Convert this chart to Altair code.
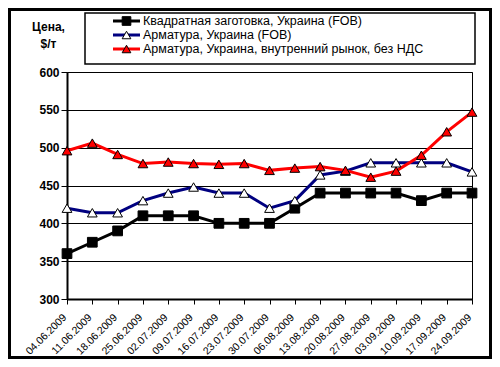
import altair as alt
import pandas as pd

DATES = ["04.06.2009", "11.06.2009", "18.06.2009", "25.06.2009", "02.07.2009",
         "09.07.2009", "16.07.2009", "23.07.2009", "30.07.2009", "06.08.2009",
         "13.08.2009", "20.08.2009", "27.08.2009", "03.09.2009", "10.09.2009",
         "17.09.2009", "24.09.2009"]
SERIES = ["Квадратная заготовка, Украина (FOB)",
          "Арматура, Украина (FOB)",
          "Арматура, Украина, внутренний рынок, без НДС"]
BILLET = [360, 375, 390, 410, 410, 410, 400, 400, 400, 420, 440, 440, 440, 440, 430, 440, 440]
REBAR_FOB = [420, 414, 414, 430, 440, 448, 440, 440, 420, 430, 464, 469, 480, 480, 480, 480, 468]
REBAR_DOM = [496, 506, 491, 479, 481, 479, 478, 479, 470, 473, 475, 470, 461, 469, 490, 521, 547]
Y_TICKS = [300, 350, 400, 450, 500, 550, 600]
Y_TITLE = ["Цена,", "$/т"]

# styles
LINE_COLORS = ["#000000", "#000080", "#FF0000"]
FILLS = ["#000000", "#FFFFFF", "#FF0000"]
SHAPES = ["square", "triangle-up", "triangle-up"]
FONT = "Liberation Sans"

rows = []
for name, vals in zip(SERIES, [BILLET, REBAR_FOB, REBAR_DOM]):
    for d, v in zip(DATES, vals):
        rows.append({"series": name, "date": d, "value": v})
df = pd.DataFrame(rows)

x = alt.X("date:N", sort=DATES, scale=alt.Scale(type="point", padding=0),
          axis=alt.Axis(title=None, labelAngle=-45, labelFontSize=10.5, labelFont=FONT,
                        labelColor="black", tickSize=5, tickColor="black",
                        domainColor="black", domainWidth=2, grid=False,
                        labelPadding=8, labelOffset=-6))
y = alt.Y("value:Q", scale=alt.Scale(domain=[300, 600], nice=False, zero=False),
          axis=alt.Axis(values=Y_TICKS, title=Y_TITLE, titleAngle=0, titleX=-19, titleY=-45.5,
                        titleAlign="center", titleBaseline="middle", titleFontWeight="bold",
                        titleFontSize=12, titleFont=FONT, titleLineHeight=17, titleColor="black",
                        labelFont=FONT, labelFontSize=12, labelFontWeight="bold", labelColor="black",
                        labelPadding=2, tickSize=6, tickColor="black", domainColor="black",
                        domainWidth=2, grid=True, gridColor="black", gridWidth=1))

base = alt.Chart(df)
lines = base.mark_line(strokeWidth=3).encode(
    x=x, y=y,
    color=alt.Color("series:N", scale=alt.Scale(domain=SERIES, range=LINE_COLORS), legend=None),
)
points = base.mark_point(filled=True, size=95, stroke="black", strokeWidth=1, opacity=1).encode(
    x=x, y=y,
    shape=alt.Shape("series:N", scale=alt.Scale(domain=SERIES, range=SHAPES), legend=None),
    fill=alt.Fill("series:N", scale=alt.Scale(domain=SERIES, range=FILLS), legend=None),
)

one = alt.Data(values=[{"k": 0}])
frame = alt.Chart(one).mark_rect(fill="transparent", stroke="black", strokeWidth=3).encode(
    x=alt.value(-57.5), x2=alt.value(423.5), y=alt.value(-62.5), y2=alt.value(285.5))
legend_box = alt.Chart(one).mark_rect(fill="white", stroke="black", strokeWidth=1.5).encode(
    x=alt.value(18), x2=alt.value(408), y=alt.value(-59), y2=alt.value(-8))

legend_layers = [legend_box]
for i, name in enumerate(SERIES):
    yy = -51 + i * 14
    ld = alt.Data(values=[{"name": name}])
    legend_layers.append(alt.Chart(ld).mark_rule(color=LINE_COLORS[i], strokeWidth=3).encode(
        x=alt.value(46), x2=alt.value(73), y=alt.value(yy)))
    legend_layers.append(alt.Chart(ld).mark_point(shape=SHAPES[i], filled=True, fill=FILLS[i],
                                                  stroke="black", strokeWidth=1, size=75, opacity=1).encode(
        x=alt.value(59.5), y=alt.value(yy)))
    legend_layers.append(alt.Chart(ld).mark_text(align="left", baseline="middle", fontSize=12.5,
                                                 font=FONT, color="black").encode(
        x=alt.value(76), y=alt.value(yy), text="name:N"))

chart = alt.layer(lines, points, frame, *legend_layers).properties(
    width=405, height=227,
    autosize=alt.AutoSizeParams(type="none"),
    padding={"left": 59, "top": 64, "right": 20, "bottom": 60},
    background="white",
).configure_view(stroke="black", strokeWidth=1)

chart.save("out.html", embed_options={"renderer": "svg", "actions": False})
